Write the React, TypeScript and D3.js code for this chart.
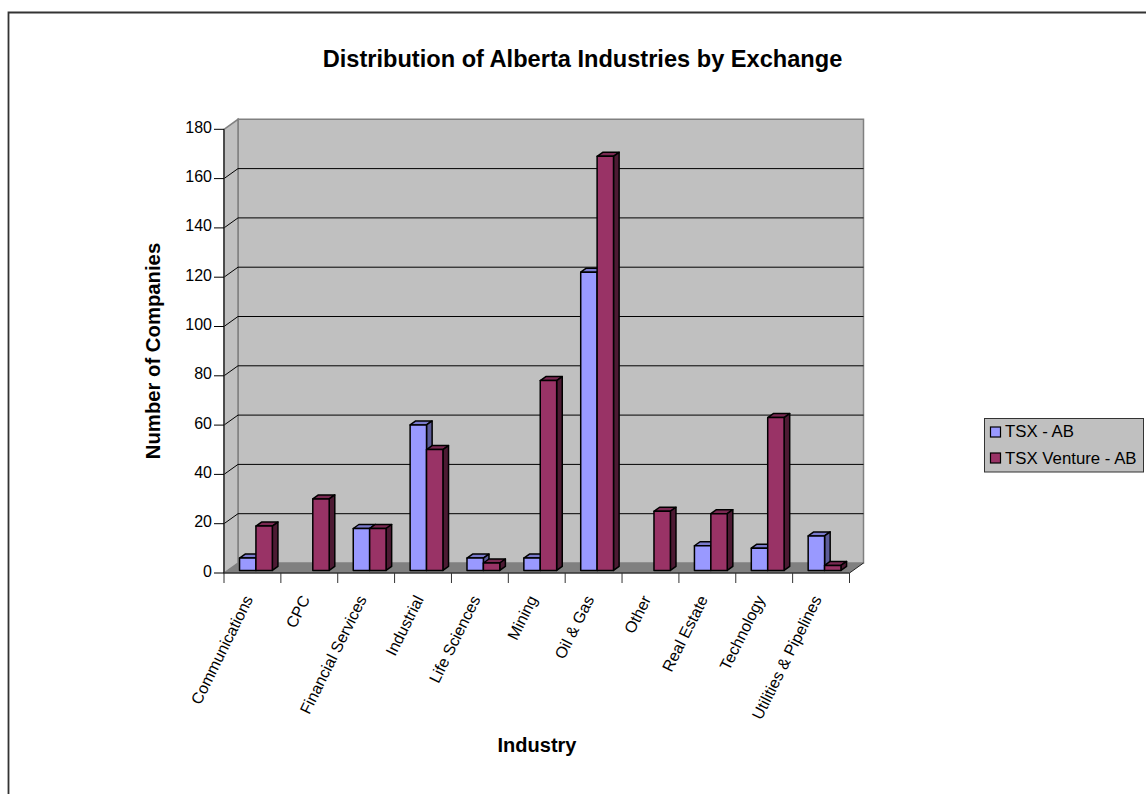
import React from "react";
import * as d3 from "d3";

const categories = ["Communications", "CPC", "Financial Services", "Industrial", "Life Sciences", "Mining", "Oil & Gas", "Other", "Real Estate", "Technology", "Utilities & Pipelines"];
const tsxAB = [5, 0, 17, 59, 5, 5, 121, 0, 10, 9, 14];
const ventureAB = [18, 29, 17, 49, 3, 77, 168, 24, 23, 62, 2];
const yTicks = [0, 20, 40, 60, 80, 100, 120, 140, 160, 180];

const seriesColors = [
  { name: "TSX - AB", values: tsxAB, front: "#9999ff", top: "#7a7acc", side: "#5c5c99" },
  { name: "TSX Venture - AB", values: ventureAB, front: "#993366", top: "#7a2952", side: "#4d1a33" },
];

const FONT = "'Liberation Sans', Arial, sans-serif";
const WALL = "#c0c0c0";
const FLOOR = "#808080";

// Plot frame: front axes plus the oblique offset of the back wall.
const x0 = 224;
const x1 = 849.5;
const yBase = 573;
const yTop = 129.3;
const wallDx = 14;
const wallDy = -10;

// Bars stand between two depths inside the floor.
const barDx = 3.5;
const barDy = -2.6;
const barDepthX = 5.6;
const barDepthY = -4;
const barWidth = 16.4;

export default function App() {
  const y = d3.scaleLinear().domain([0, 180]).range([yBase, yTop]);
  const x = d3.scaleBand<string>().domain(categories).range([x0, x1]);
  const poly = (pts: [number, number][]) => pts.map((p) => p.join(",")).join(" ");

  return (
    <svg width={1146} height={794} style={{ position: "absolute", left: 0, top: 0, display: "block" }} fontFamily={FONT}>
      <rect width={1146} height={794} fill="#fff" />
      <path d="M8.5,794 V12.5 H1146" fill="none" stroke="#333" strokeWidth={1.8} />

      <text x={582.5} y={67} textAnchor="middle" fontSize={23.6} fontWeight="bold" fill="#000">
        Distribution of Alberta Industries by Exchange
      </text>

      {/* Walls and floor */}
      <polygon points={poly([[x0 + wallDx, yTop + wallDy], [x1 + wallDx, yTop + wallDy], [x1 + wallDx, yBase + wallDy], [x0 + wallDx, yBase + wallDy]])} fill={WALL} stroke={FLOOR} strokeWidth={1.5} />
      <polygon points={poly([[x0, yTop], [x0 + wallDx, yTop + wallDy], [x0 + wallDx, yBase + wallDy], [x0, yBase]])} fill={WALL} stroke={FLOOR} strokeWidth={1.5} />
      <polygon points={poly([[x0, yBase], [x0 + wallDx, yBase + wallDy], [x1 + wallDx, yBase + wallDy], [x1, yBase]])} fill={FLOOR} />

      {/* Gridlines wrap from the side wall onto the back wall */}
      {yTicks.slice(1, -1).map((t) => (
        <polyline key={t} points={poly([[x0, y(t)], [x0 + wallDx, y(t) + wallDy], [x1 + wallDx, y(t) + wallDy]])} fill="none" stroke="#000" strokeWidth={1} />
      ))}
      <polyline points={poly([[x1, yBase], [x1 + wallDx, yBase + wallDy]])} fill="none" stroke="#222" strokeWidth={1} />

      {/* Bars */}
      {categories.map((c, i) => {
        const left = x(c)! + (x.bandwidth() - barWidth * 2) / 2 + barDx;
        return seriesColors.map((s, k) => {
          const v = s.values[i];
          if (!v) return null;
          const xa = left + k * barWidth;
          const xb = xa + barWidth;
          const yb = y(0) + barDy;
          const yt = y(v) + barDy;
          const common = { stroke: "#000", strokeWidth: 1.5, strokeLinejoin: "round" as const };
          return (
            <g key={s.name + c}>
              <polygon points={poly([[xa, yt], [xa + barDepthX, yt + barDepthY], [xb + barDepthX, yt + barDepthY], [xb, yt]])} fill={s.top} {...common} />
              <polygon points={poly([[xb, yt], [xb + barDepthX, yt + barDepthY], [xb + barDepthX, yb + barDepthY], [xb, yb]])} fill={s.side} {...common} />
              <rect x={xa} y={yt} width={barWidth} height={yb - yt} fill={s.front} {...common} />
            </g>
          );
        });
      })}

      {/* Axes */}
      <line x1={x0} x2={x0} y1={yTop} y2={yBase} stroke="#333" strokeWidth={1.5} />
      <line x1={x0} x2={x1} y1={yBase} y2={yBase} stroke="#333" strokeWidth={1.5} />
      {yTicks.map((t) => (
        <g key={t}>
          <line x1={x0 - 10} x2={x0} y1={y(t)} y2={y(t)} stroke="#000" strokeWidth={1} />
          <text x={x0 - 12} y={y(t) + 3.5} textAnchor="end" fontSize={16} fill="#000">{t}</text>
        </g>
      ))}
      {categories.concat("").map((c, i) => {
        const tx = x0 + i * x.step();
        return <line key={i} x1={tx} x2={tx} y1={yBase} y2={yBase + 10} stroke="#333" strokeWidth={1} />;
      })}
      {categories.map((c) => {
        const tx = x(c)! + x.bandwidth() / 2 + 1;
        return (
          <text key={c} transform={`translate(${tx},599) rotate(-63.5)`} textAnchor="end" fontSize={16} fill="#000">
            {c}
          </text>
        );
      })}

      <text x={537} y={752} textAnchor="middle" fontSize={20} fontWeight="bold" fill="#000">Industry</text>
      <text transform="translate(160,351) rotate(-90)" textAnchor="middle" fontSize={20.3} fontWeight="bold" fill="#000">Number of Companies</text>

      {/* Legend */}
      <rect x={984.5} y={418.5} width={159} height={53.5} fill={WALL} stroke="#333" strokeWidth={1} />
      {seriesColors.map((s, k) => (
        <g key={s.name}>
          <rect x={990.5} y={427 + k * 26} width={10} height={10} fill={s.front} stroke="#000" strokeWidth={1.2} />
          <text x={1005} y={437 + k * 27} fontSize={16.8} fill="#000">{s.name}</text>
        </g>
      ))}
    </svg>
  );
}
